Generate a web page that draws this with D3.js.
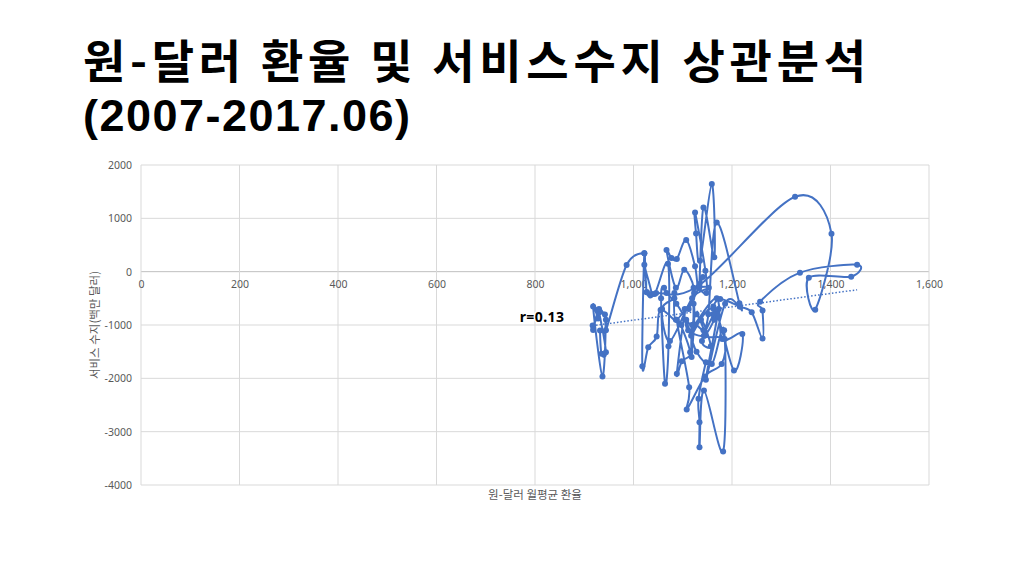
<!DOCTYPE html>
<html><head><meta charset="utf-8">
<script src="https://cdn.jsdelivr.net/npm/d3@7"></script>
<style>
body{margin:0;background:#fff;}
svg{display:block;font-family:"Noto Sans CJK KR","Noto Sans",sans-serif;}
</style></head>
<body>
<svg id="c" width="1024" height="576"></svg>
<script>
const titleLines = ["원-달러 환율 및 서비스수지 상관분석", "(2007-2017.06)"];
const xTitle = "원-달러 월평균 환율";
const yTitle = "서비스 수지(백만 달러)";
const xTicks = [0,200,400,600,800,1000,1200,1400,1600];
const yTicks = [-4000,-3000,-2000,-1000,0,1000,2000];
const rLabel = "r=0.13";
// monthly won-dollar rate (2007.01 - 2017.06)
const rate = [
 932,935,944,930,926,928,918,937,942,917,918,930,
 944,944,986,1022,1022,1037,1027,1046,1134,1328,1402,1369,
 1356,1442,1454,1338,1257,1262,1262,1240,1216,1176,1162,1162,
 1139,1157,1137,1117,1163,1204,1221,1180,1169,1123,1128,1142,
 1120,1118,1122,1086,1083,1083,1058,1074,1119,1153,1133,1148,
 1146,1125,1127,1135,1159,1164,1142,1133,1125,1107,1088,1077,
 1067,1086,1103,1122,1112,1141,1123,1119,1087,1067,1062,1056,
 1064,1071,1070,1043,1027,1022,1018,1030,1047,1055,1097,1104,
 1088,1098,1115,1088,1113,1108,1145,1179,1185,1144,1152,1169,
 1215,1216,1186,1147,1173,1164,1143,1111,1107,1128,1159,1184,
 1182,1143,1134,1134,1132,1147
];
// monthly services balance, million USD
const services = [
 -1105,-1541,-1511,-760,-720,-880,-655,-1966,-805,-1011,-1092,-700,
 -900,-1100,125,343,131,-418,-387,-400,-250,1404,711,-712,
 -112,-94,131,-19,-562,-730,-1255,-762,-655,-512,-655,-800,
 -1300,-1400,-900,-1200,-700,-1854,-1167,-1261,-500,-1000,-800,-1100,
 -1000,-1600,-600,-900,-400,-500,-700,-1300,-500,-300,-300,-400,
 19,1111,717,206,1642,268,1204,-300,100,593,237,256,
 406,-300,37,-300,-700,-100,-400,-1000,-600,-400,-300,-500,
 -2103,-1400,150,-418,-387,343,-1773,-1418,-1217,-717,-1000,-700,
 -1916,-1680,-1511,-900,-2166,-2584,-1966,-1729,-1261,-1200,-800,923,
 -593,-655,-600,-2028,-700,-900,-1200,-1100,-900,-1500,-1729,-1100,
 -3371,-2228,-3290,-2822,-2384,-1700
];

const svg = d3.select("#c");
const m = {l:141, r:929, t:165, b:485};
const x = d3.scaleLinear().domain([0,1600]).range([m.l,m.r]);
const y = d3.scaleLinear().domain([-4000,2000]).range([m.b,m.t]);

// title
svg.append("text").attr("x",83).attr("y",78)
  .attr("font-size",46).attr("font-weight","bold").attr("fill","#000")
  .attr("textLength",783).attr("lengthAdjust","spacing")
  .text(titleLines[0]);
svg.append("text").attr("x",83).attr("y",131)
  .attr("font-size",45).attr("font-weight","bold").attr("fill","#000")
  .attr("font-family","'Liberation Sans',Arial,sans-serif")
  .attr("textLength",327).attr("lengthAdjust","spacing")
  .text(titleLines[1]);

// gridlines
const g = svg.append("g");
g.selectAll("line.hy").data(yTicks).join("line")
  .attr("x1",m.l).attr("x2",m.r).attr("y1",d=>y(d)).attr("y2",d=>y(d))
  .attr("stroke",d=>d===0?"#bfbfbf":"#d9d9d9").attr("stroke-width",1);
g.selectAll("line.vx").data(xTicks).join("line")
  .attr("x1",d=>x(d)).attr("x2",d=>x(d)).attr("y1",m.t).attr("y2",m.b)
  .attr("stroke","#d9d9d9").attr("stroke-width",1);

// y tick labels
const fmt = d3.format(",");
svg.append("g").attr("transform",`translate(${m.l},0)`)
  .call(d3.axisLeft(y).tickValues(yTicks).tickSize(0).tickPadding(9).tickFormat(d=>String(d)))
  .call(a=>a.select(".domain").remove())
  .call(a=>a.selectAll("text").attr("font-size",10.5).attr("fill","#595959").attr("font-family","'Noto Sans','Open Sans',sans-serif"));
// x tick labels (next to the zero line)
svg.append("g").attr("transform",`translate(0,${y(0)})`)
  .call(d3.axisBottom(x).tickValues(xTicks).tickSize(0).tickPadding(9).tickFormat(d=>fmt(d)))
  .call(a=>a.select(".domain").remove())
  .call(a=>a.selectAll("text").attr("font-size",10.5).attr("fill","#595959").attr("font-family","'Noto Sans','Open Sans',sans-serif"));

// axis titles
svg.append("text").attr("x",535).attr("y",499).attr("text-anchor","middle")
  .attr("font-size",11.5).attr("fill","#595959").text(xTitle);
svg.append("text").attr("transform","translate(99,325) rotate(-90)").attr("text-anchor","middle")
  .attr("font-size",11.5).attr("fill","#595959").text(yTitle);

// data
const pts = rate.map((r,i)=>[r, services[i]]);
const col = "#4472C4";
svg.append("path").datum(pts)
  .attr("d", d3.line().x(d=>x(d[0])).y(d=>y(d[1])).curve(d3.curveCatmullRom.alpha(0)))
  .attr("fill","none").attr("stroke",col).attr("stroke-width",2);
svg.append("g").selectAll("circle").data(pts).join("circle")
  .attr("cx",d=>x(d[0])).attr("cy",d=>y(d[1])).attr("r",3).attr("fill",col);

// linear trend (least squares from the data)
const mx = d3.mean(rate), my = d3.mean(services);
const sxy = d3.sum(rate.map((r,i)=>(r-mx)*(services[i]-my)));
const sxx = d3.sum(rate.map(r=>(r-mx)*(r-mx)));
const slope = sxy/sxx, icpt = my - slope*mx;
const [x0,x1] = d3.extent(rate);
svg.append("line")
  .attr("x1",x(x0)).attr("y1",y(icpt+slope*x0))
  .attr("x2",x(x1)).attr("y2",y(icpt+slope*x1))
  .attr("stroke",col).attr("stroke-width",1.5).attr("stroke-dasharray","1.5,2");

// r label
svg.append("text").attr("x",542).attr("y",322).attr("text-anchor","middle")
  .attr("font-size",14).attr("font-weight","bold").attr("fill","#000").attr("letter-spacing",0.4)
  .attr("stroke","#fff").attr("stroke-width",3).attr("paint-order","stroke")
  .attr("font-family","'Noto Sans',sans-serif").text(rLabel);
</script>
</body></html>
